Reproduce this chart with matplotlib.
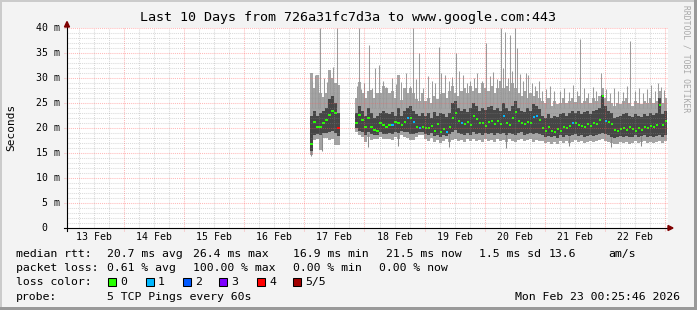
import numpy as np
import pandas as pd
import matplotlib
matplotlib.use("Agg")
import matplotlib.pyplot as plt
from matplotlib.patches import Rectangle, Polygon

# ---------------- data ----------------
title = "Last 10 Days from 726a31fc7d3a to www.google.com:443"
day_labels = ["13 Feb", "14 Feb", "15 Feb", "16 Feb", "17 Feb",
              "18 Feb", "19 Feb", "20 Feb", "21 Feb", "22 Feb"]
y_ticks = [0, 5, 10, 15, 20, 25, 30, 35, 40]
y_tick_labels = ["0", "5 m", "10 m", "15 m", "20 m", "25 m", "30 m", "35 m", "40 m"]

origin = "2026-02-13 00:00"
view_start = "2026-02-13 01:12"
view_days = 10
step_minutes = 72

# segment A (before the gap)
seg_a_start = "2026-02-17 02:14"
a_lo  = [14.6, 17.6, 17.9, 15.6, 18.0, 18.0, 17.6, 17.9, 16.6, 16.6]
a_q1  = [15.5, 18.6, 18.8, 18.6, 19.0, 19.0, 19.2, 19.5, 19.0, 18.5]
a_med = [16.9, 21.3, 20.3, 20.3, 21.0, 21.6, 22.6, 23.5, 23.0, 20.0]
a_q3  = [22.5, 23.5, 22.5, 23.0, 23.5, 24.0, 25.9, 26.5, 25.0, 23.0]
a_hi  = [31.0, 28.0, 30.6, 27.0, 26.3, 27.0, 31.6, 30.0, 29.0, 28.6]
a_loss = [0, 0, 0, 0, 0, 0, 0, 0, 0, 4]

# segment B (after the gap)
seg_b_start = "2026-02-17 20:12"
b_lo = [19.3, 18.6, 18.3, 17.3, 18.3, 17.6, 17.9, 17.9, 18.3, 17.9, 17.9, 17.9, 17.6, 18.3, 17.9, 18.6, 18.3, 18.0, 17.6, 17.6, 18.3, 18.6, 18.6,
        17.8, 17.5, 18.0, 17.2, 17.6, 17.0, 17.5, 17.8, 17.3, 17.6, 17.9, 17.4,
        17.6, 17.2, 17.8, 17.5, 17.9, 17.4, 17.7, 17.3, 17.8, 17.5, 17.6, 17.2, 17.8, 17.5,
        17.6, 17.3, 17.8, 17.5, 17.2, 17.7, 17.9, 17.4, 17.6, 17.8, 17.3, 17.6, 17.5,
        17.4, 17.0, 17.3, 16.8, 17.2, 16.9, 17.4, 17.1, 17.5, 17.0, 17.3, 17.6, 17.2, 17.4, 17.0, 17.3, 17.5, 17.2, 17.4, 17.6,
        17.8, 17.5, 17.3, 17.0, 16.8, 16.9, 17.2, 17.0, 17.3, 16.9, 17.1, 17.4, 17.0, 17.2, 17.4, 17.1, 17.3, 17.0, 17.2, 17.5, 17.0, 17.4]
b_q1 = [20.0, 19.5, 19.2, 18.6, 19.3, 18.8, 18.7, 18.6, 19.2, 18.9, 18.8, 19.0, 18.9, 19.3, 19.0, 19.4, 19.3, 19.2, 18.9, 18.8, 19.1, 19.3, 19.2,
        18.8, 18.6, 19.0, 18.4, 18.7, 18.3, 18.6, 18.5, 18.8, 19.2, 19.6, 19.0,
        18.9, 18.6, 19.0, 18.7, 19.2, 18.8, 19.0, 18.6, 19.1, 18.8, 19.0, 18.6, 19.1, 18.9,
        19.0, 18.7, 19.1, 18.9, 18.6, 19.0, 19.2, 18.7, 18.9, 19.1, 18.8, 19.0, 18.8,
        18.6, 18.3, 18.5, 18.2, 18.4, 18.1, 18.6, 18.3, 18.7, 18.4, 18.6, 18.8, 18.5, 18.6, 18.3, 18.5, 18.7, 18.4, 18.6, 18.8,
        19.0, 18.8, 18.6, 18.3, 18.1, 18.2, 18.4, 18.3, 18.5, 18.2, 18.3, 18.6, 18.2, 18.4, 18.6, 18.3, 18.5, 18.2, 18.4, 18.7, 18.3, 18.6]
b_med = [21.1, 22.6, 21.6, 20.3, 22.0, 20.3, 19.6, 19.4, 21.0, 20.6, 20.3, 20.6, 20.6, 21.3, 21.0, 20.6, 21.3, 22.0, 22.0, 21.3, 20.3, 20.0, 20.3,
         20.0, 20.1, 20.5, 19.5, 20.8, 19.3, 19.8, 19.2, 20.3, 22.0, 23.0, 21.5,
         21.0, 20.8, 21.2, 20.6, 22.5, 21.8, 21.0, 21.0, 20.5, 21.2, 21.5, 20.8, 21.4, 20.9,
         22.5, 21.0, 20.6, 22.0, 23.2, 21.5, 21.0, 20.8, 21.3, 21.0, 22.3, 22.5, 21.6,
         20.0, 19.5, 20.2, 19.5, 19.2, 19.8, 19.4, 20.3, 20.0, 20.5, 21.0, 21.0, 20.6, 20.5, 20.2, 20.8, 20.4, 21.0, 20.8, 21.6,
         26.4, 21.5, 21.3, 20.8, 19.6, 19.4, 19.8, 20.0, 19.6, 20.3, 19.8, 19.5, 20.0, 19.7, 20.3, 20.1, 20.5, 20.2, 20.6, 24.6, 20.6, 21.5]
b_q3 = [23.0, 24.5, 23.5, 22.5, 24.0, 23.0, 22.0, 22.5, 23.0, 23.5, 23.0, 22.8, 23.2, 22.5, 24.0, 22.5, 23.5, 24.0, 24.5, 23.5, 22.8, 22.5, 23.0,
        22.5, 23.0, 22.0, 23.2, 22.5, 23.0, 22.8, 22.2, 23.0, 25.0, 25.5, 24.0,
        23.5, 23.8, 23.2, 24.0, 25.0, 24.5, 23.5, 24.0, 23.6, 24.2, 24.5, 23.6, 24.0, 23.5,
        25.0, 24.0, 23.5, 24.5, 25.5, 24.0, 23.5, 23.2, 24.0, 23.5, 24.8, 24.5, 23.8,
        22.5, 22.0, 22.8, 22.0, 22.5, 22.2, 22.8, 23.0, 22.5, 23.0, 23.5, 23.0, 23.4, 22.8, 23.2, 23.5, 22.8, 23.3, 23.6, 24.0,
        26.6, 24.5, 23.5, 23.0, 22.0, 22.3, 22.5, 22.8, 23.0, 22.5, 22.3, 22.8, 22.5, 22.2, 22.8, 22.5, 23.0, 22.6, 23.0, 26.0, 22.8, 23.5]
b_hi = [26.0, 29.3, 27.0, 26.0, 27.5, 27.6, 26.0, 27.0, 27.0, 28.3, 28.0, 27.0, 27.5, 26.0, 30.6, 25.6, 28.0, 27.0, 28.0, 27.0, 25.9, 25.5, 27.0,
        25.5, 26.0, 25.0, 26.5, 25.8, 26.8, 27.0, 26.0, 27.5, 28.5, 27.0, 26.5,
        27.5, 28.0, 27.0, 28.5, 27.5, 28.0, 27.0, 29.0, 28.0, 27.5, 28.5, 27.0, 28.0, 29.5,
        28.0, 28.5, 27.5, 29.0, 28.0, 27.0, 26.5, 27.5, 26.0, 27.0, 26.5, 27.5, 26.0,
        25.5, 25.0, 26.0, 24.5, 25.5, 24.8, 25.0, 26.0, 25.0, 25.5, 26.0, 25.2, 26.5, 25.0, 25.5, 26.0, 25.0, 26.0, 25.5, 26.5,
        28.0, 26.0, 25.5, 25.0, 24.5, 25.0, 24.8, 25.5, 26.0, 25.0, 24.5, 25.5, 25.0, 24.8, 25.5, 25.0, 26.0, 25.0, 25.5, 27.5, 25.0, 26.0]
b_loss = [0, 0, 0, 0, 0, 0, 0, 0, 0, 0, 0, 0, 1, 0, 0, 0, 0, 1, 0, 1, 0, 1, 0,
          0, 0, 0, 0, 0, 0, 0, 1, 0, 0, 0, 0,
          1, 0, 0, 0, 0, 0, 0, 0, 0, 0, 0, 0, 0, 0,
          1, 0, 0, 0, 0, 0, 0, 0, 0, 0, 1, 1, 0,
          0, 0, 0, 0, 0, 0, 0, 0, 0, 0, 1, 0, 0, 0, 0, 0, 0, 0, 0, 0,
          0, 1, 0, 0, 0, 0, 0, 0, 0, 0, 0, 0, 0, 0, 0, 0, 0, 0, 0, 0, 0, 0]

# single-sample spikes of the slowest ping (days since 13 Feb 00:00, ms)
spike_day = [4.12, 4.17, 4.22, 4.26, 4.32, 4.38, 4.43, 4.48, 4.54,
             4.87, 4.91, 4.95, 5.00, 5.07, 5.12, 5.17, 5.24, 5.30, 5.36, 5.45,
             5.52, 5.60, 5.69, 5.75, 5.81, 5.86, 5.91, 5.97, 6.05, 6.12, 6.18,
             6.24, 6.28, 6.34, 6.40, 6.46, 6.52, 6.58, 6.64, 6.70, 6.76, 6.82,
             6.88, 6.95, 7.02, 7.08, 7.14, 7.20, 7.27, 7.31, 7.34, 7.38, 7.42,
             7.46, 7.50, 7.54, 7.58, 7.64, 7.68, 7.72, 7.78, 7.84, 7.90, 7.95,
             8.02, 8.08, 8.15, 8.25, 8.32, 8.40, 8.47, 8.53, 8.59, 8.66, 8.72,
             8.80, 8.86, 8.94, 9.02, 9.08, 9.15, 9.22, 9.30, 9.36, 9.42, 9.50,
             9.56, 9.63, 9.70, 9.77, 9.83, 9.88, 9.93, 9.98]
spike_ms = [29.5, 30.6, 28.8, 40.0, 30.0, 29.2, 31.0, 32.3, 40.0,
            28.5, 40.0, 27.8, 29.0, 36.6, 28.0, 32.0, 32.6, 29.5, 28.2, 30.0,
            28.8, 29.2, 31.0, 28.5, 40.0, 29.8, 35.0, 28.0, 30.5, 29.5, 29.0,
            36.3, 31.0, 30.6, 29.5, 30.2, 35.0, 31.5, 30.6, 29.0, 29.5, 30.0,
            31.0, 29.5, 37.0, 30.5, 31.2, 29.8, 40.0, 32.0, 39.3, 30.0, 38.6,
            31.5, 40.0, 36.0, 30.8, 29.5, 31.0, 30.6, 29.0, 28.5, 29.5, 27.5,
            27.8, 28.5, 27.5, 27.5, 28.0, 27.2, 28.6, 27.5, 37.9, 28.0, 27.0,
            28.2, 27.5, 31.0, 27.8, 27.0, 28.0, 27.5, 27.2, 28.4, 37.4, 27.5,
            28.0, 27.0, 27.8, 28.6, 27.5, 29.0, 28.3, 27.6]

# single-sample dips of the fastest ping
dip_day = [4.11, 4.30, 5.05, 5.55, 6.40, 7.35, 8.40, 9.10, 9.60]
dip_ms = [14.4, 15.5, 16.2, 16.5, 16.3, 16.0, 16.4, 16.2, 16.5]

loss_labels = ["0", "1", "2", "3", "4", "5/5"]
loss_colors = ["#26ff00", "#00b8ff", "#0059ff", "#7e00ff", "#ff0000", "#a10000"]

legend_rtt = [("median rtt:", 16), ("20.7 ms avg", 107), ("26.4 ms max", 193),
              ("16.9 ms min", 293), ("21.5 ms now", 386), ("1.5 ms sd", 479),
              ("13.6", 549), ("am/s", 608)]
legend_loss = [("packet loss:", 16), ("0.61 % avg", 107), ("100.00 % max", 193),
               ("0.00 % min", 293), ("0.00 % now", 379)]
probe_text = "5 TCP Pings every 60s"
stamp_text = "Mon Feb 23 00:25:46 2026"

# ---------------- figure ----------------
W, H = 697, 310
fig = plt.figure(figsize=(W / 100, H / 100), dpi=100)
fig.patch.set_facecolor("#f3f3f3")
MONO = "DejaVu Sans Mono"

PX_L, PX_R, PX_T, PX_B = 67, 668, 28, 228
ax = fig.add_axes([PX_L / W, 1 - PX_B / H, (PX_R - PX_L) / W, (PX_B - PX_T) / H])
ax.set_facecolor("white")
for s in ax.spines.values():
    s.set_visible(False)
ax.set_xticks([])
ax.set_yticks([])

t0 = pd.Timestamp(origin)
def to_day(s):
    return (pd.Timestamp(s) - t0) / pd.Timedelta(days=1)

x0 = to_day(view_start)
x1 = x0 + view_days
ax.set_xlim(x0, x1)
ax.set_ylim(0, 40)
ppd = (PX_R - PX_L) / view_days   # px per day
ppm = (PX_B - PX_T) / 40.0        # px per ms
step = step_minutes / 1440.0

LIGHT = "#a5a5a5"
DARK = "#464646"

def draw_segment(start, lo, q1, med, q3, hi, loss):
    n = len(med)
    t = to_day(start) + step * np.arange(n)
    lo, q1, med, q3, hi = map(np.asarray, (lo, q1, med, q3, hi))
    ax.bar(t, hi - lo, bottom=lo, width=step, align="edge", color=LIGHT,
           linewidth=0, antialiased=False, zorder=2)
    ax.bar(t, q3 - q1, bottom=q1, width=step, align="edge", color=DARK,
           linewidth=0, antialiased=False, zorder=3)
    cols = [loss_colors[k] for k in loss]
    mh = 2 / ppm
    ax.bar(t + step * 0.15, np.full(n, mh), bottom=med - mh / 2, width=step * 0.7,
           align="edge", color=cols, linewidth=0, antialiased=False, zorder=4)

draw_segment(seg_a_start, a_lo, a_q1, a_med, a_q3, a_hi, a_loss)
draw_segment(seg_b_start, b_lo, b_q1, b_med, b_q3, b_hi, b_loss)
ax.vlines(spike_day, 24, spike_ms, colors="#9c9c9c", linewidth=0.75, zorder=2.5)
ax.vlines(dip_day, dip_ms, 19, colors="#8a8a8a", linewidth=0.75, zorder=2.5)

# grid
minor_c = (0.55, 0.55, 0.55, 0.32)
major_c = (1.0, 0.35, 0.35, 0.42)
dot = (0, (1, 1))
d = np.ceil(x0 * 4) / 4
while d < x1:
    major = abs(d - round(d)) < 1e-6
    if major:
        ax.plot([d, d], [-3 / ppm, 40], color=major_c, lw=0.75, ls=dot,
                clip_on=False, zorder=6)
    else:
        ax.plot([d, d], [0, 40], color=minor_c, lw=0.75, ls=dot, zorder=6)
    d += 0.25
for v in range(1, 41):
    if v % 5 == 0:
        ax.plot([x0 - 3 / ppd, x1], [v, v], color=major_c, lw=0.75, ls=dot,
                clip_on=False, zorder=6)
    else:
        ax.plot([x0, x1], [v, v], color=minor_c, lw=0.75, ls=dot, zorder=6)

# axes + arrows
ax.plot([x0 - 3 / ppd, x1 + 1 / ppd], [0, 0], color="black", lw=0.8,
        clip_on=False, zorder=7)
ax.plot([x0, x0], [-3 / ppm, 40 + 1 / ppm], color="black", lw=0.8,
        clip_on=False, zorder=7)
ax.add_patch(Polygon([[x1, 2.5 / ppm], [x1, -2.5 / ppm], [x1 + 5 / ppd, 0]],
                     closed=True, color="#7f0000", clip_on=False, zorder=8))
ax.add_patch(Polygon([[x0 - 2.5 / ppd, 40 + 1 / ppm], [x0 + 2.5 / ppd, 40 + 1 / ppm],
                      [x0, 40 + 6.5 / ppm]], closed=True, color="#7f0000",
                     clip_on=False, zorder=8))

def ptxt(x, y, s, **kw):
    kw.setdefault("family", MONO)
    kw.setdefault("color", "black")
    fig.text(x / W, 1 - y / H, s, **kw)

# tick labels
for i, lab in enumerate(day_labels):
    xp = PX_L + (i + 0.5 - x0) * ppd
    ptxt(xp, 237, lab, fontsize=7.1, ha="center", va="center")
for v, lab in zip(y_ticks, y_tick_labels):
    yp = PX_B - v * ppm
    xr = 60 if lab != "0" else 47
    ptxt(xr, yp, lab, fontsize=7.1, ha="right", va="center")

ptxt(348, 18, title, fontsize=9.6, ha="center", va="center")
ptxt(11, 127, "Seconds", fontsize=8.0, ha="center", va="center", rotation=90)
ptxt(686, 59, "RRDTOOL / TOBI OETIKER", fontsize=5.8, ha="center", va="center",
     rotation=270, color="#a8a8a8")

# legend
LF = 8.25
for s, xp in legend_rtt:
    ptxt(xp, 254, s, fontsize=LF, ha="left", va="center")
for s, xp in legend_loss:
    ptxt(xp, 268, s, fontsize=LF, ha="left", va="center")
ptxt(16, 282, "loss color:", fontsize=LF, ha="left", va="center")
box_x = [108, 146, 183, 219, 257, 293]
for bx, lab, c in zip(box_x, loss_labels, loss_colors):
    fig.add_artist(Rectangle((bx / W, 1 - 285.5 / H), 8 / W, 8 / H,
                             transform=fig.transFigure, facecolor=c,
                             edgecolor="black", linewidth=0.75))
    ptxt(bx + 12, 282, lab, fontsize=LF, ha="left", va="center")
ptxt(16, 297, "probe:", fontsize=LF, ha="left", va="center")
ptxt(107, 297, probe_text, fontsize=LF, ha="left", va="center")
ptxt(680, 297, stamp_text, fontsize=LF, ha="right", va="center")

# 3D border
def prect(x, y, w, h, c):
    fig.add_artist(Rectangle((x / W, 1 - (y + h) / H), w / W, h / H,
                             transform=fig.transFigure, facecolor=c,
                             edgecolor="none", linewidth=0))
prect(0, 0, W, 2, "#cbcbcb")
prect(0, 0, 2, H, "#cbcbcb")
prect(0, H - 3, W, 3, "#999999")
prect(W - 3, 0, 3, H, "#999999")

fig.savefig("out.png", dpi=100, facecolor=fig.get_facecolor())
